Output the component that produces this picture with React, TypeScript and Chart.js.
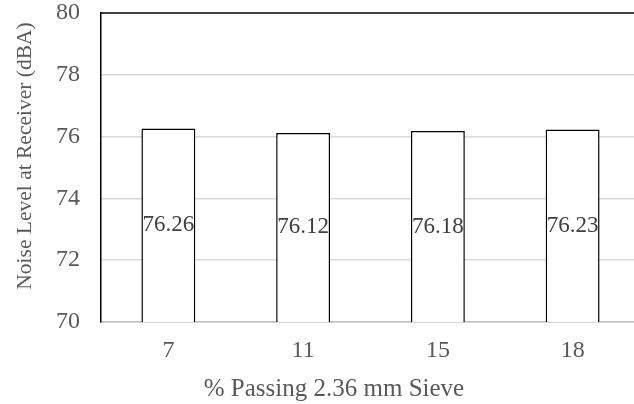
import React, { useEffect, useRef } from "react";
import { Chart, registerables } from "chart.js";

Chart.register(...registerables);

const categories = ["7", "11", "15", "18"];
const noiseLevels = [76.26, 76.12, 76.18, 76.23];
const valueLabels = ["76.26", "76.12", "76.18", "76.23"];
const yMin = 70;
const yMax = 80;
const yStep = 2;
const xTitle = "% Passing 2.36 mm Sieve";
const yTitle = "Noise Level at Receiver (dBA)";

const FONT = "'Liberation Serif', 'Times New Roman', serif";

export default function App() {
  const ref = useRef<HTMLCanvasElement | null>(null);

  useEffect(() => {
    document.body.style.margin = "0";
    document.body.style.overflow = "hidden";
    const canvas = ref.current;
    if (!canvas) return;

    const overlay = {
      id: "overlay",
      afterDatasetsDraw(chart: any) {
        const ctx = chart.ctx;
        const area = chart.chartArea;
        const yScale = chart.scales.y;
        ctx.save();
        // top border
        ctx.strokeStyle = "#000000";
        ctx.lineWidth = 1.5;
        ctx.beginPath();
        ctx.moveTo(area.left, area.top);
        ctx.lineTo(area.right, area.top);
        ctx.stroke();
        // value labels
        const meta = chart.getDatasetMeta(0);
        ctx.fillStyle = "#404040";
        ctx.font = `23px ${FONT}`;
        ctx.textAlign = "center";
        ctx.textBaseline = "middle";
        const basePx = yScale.getPixelForValue(yMin);
        meta.data.forEach((bar: any, i: number) => {
          const topPx = yScale.getPixelForValue(noiseLevels[i]);
          ctx.fillText(valueLabels[i], bar.x, (topPx + basePx) / 2);
        });
        // axis titles
        ctx.fillStyle = "#595959";
        ctx.font = `25px ${FONT}`;
        ctx.fillText(xTitle, 334, 389);
        ctx.font = `21.5px ${FONT}`;
        ctx.translate(25, 156);
        ctx.rotate(-Math.PI / 2);
        ctx.fillText(yTitle, 0, 0);
        ctx.restore();
      },
    };

    const chart = new Chart(canvas, {
      type: "bar",
      data: {
        labels: categories,
        datasets: [
          {
            data: noiseLevels,
            backgroundColor: "#ffffff",
            borderColor: "#000000",
            borderWidth: 1.5,
            barPercentage: 0.4,
            categoryPercentage: 1,
          },
        ],
      },
      options: {
        animation: false,
        responsive: false,
        maintainAspectRatio: false,
        layout: { padding: { top: 13, right: 1, left: 0, bottom: 0 } },
        plugins: { legend: { display: false }, tooltip: { enabled: false } },
        scales: {
          x: {
            grid: { display: false, drawTicks: false },
            border: { color: "#bfbfbf", width: 1.5 },
            ticks: {
              color: "#595959",
              font: { family: FONT, size: 24 },
              padding: 14,
            },
            afterFit: (s: any) => {
              s.height = 82;
              s.paddingLeft = 0;
              s.paddingRight = 0;
            },
          },
          y: {
            min: yMin,
            max: yMax,
            grid: {
              drawTicks: false,
              color: (c: any) => (c.tick && c.tick.value === yMax ? "rgba(0,0,0,0)" : "#d9d9d9"),
              lineWidth: 1.5,
            },
            border: { color: "#000000", width: 1.5 },
            ticks: {
              stepSize: yStep,
              color: "#595959",
              font: { family: FONT, size: 24 },
              padding: 21,
            },
            afterFit: (s: any) => {
              s.width = 101;
              s.paddingTop = 0;
              s.paddingBottom = 0;
            },
          },
        },
      } as any,
      plugins: [overlay],
    });

    return () => chart.destroy();
  }, []);

  return (
    <div style={{ width: 641, height: 404, overflow: "hidden" }}>
      <canvas ref={ref} width={641} height={404} style={{ display: "block" }} />
    </div>
  );
}
